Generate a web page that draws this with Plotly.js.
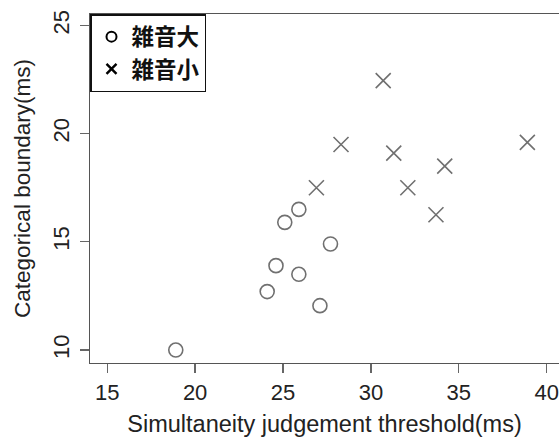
<!DOCTYPE html>
<html>
<head>
<meta charset="utf-8">
<script src="https://cdn.plot.ly/plotly-3.0.1.min.js"></script>
<style>html,body{margin:0;padding:0;background:#fff}#chart{width:559px;height:437px}</style>
</head>
<body>
<div id="chart"></div>
<script>
// 雑音大 (large noise) — circles
var bigNoiseX = [18.9, 24.1, 24.6, 25.9, 27.1, 27.7, 25.1, 25.9];
var bigNoiseY = [10.0, 12.7, 13.9, 13.5, 12.05, 14.9, 15.9, 16.5];
// 雑音小 (small noise) — crosses
var smallNoiseX = [26.9, 28.3, 30.7, 31.3, 32.1, 33.7, 34.2, 38.9];
var smallNoiseY = [17.5, 19.5, 22.45, 19.1, 17.5, 16.25, 18.5, 19.6];
var seriesNames = ['雑音大', '雑音小'];
var xTicks = [15, 20, 25, 30, 35, 40];
var yTicks = [10, 15, 20, 25];

var gray = '#707070';
var traces = [
  {x: bigNoiseX, y: bigNoiseY, mode: 'markers', type: 'scatter', showlegend: false,
   marker: {symbol: 'circle-open', size: 14, color: gray, line: {width: 1.6, color: gray}}},
  {x: smallNoiseX, y: smallNoiseY, mode: 'markers', type: 'scatter', showlegend: false,
   marker: {symbol: 'x-thin-open', size: 15, color: gray, line: {width: 1.6, color: gray}}},
  {x: [null], y: [null], mode: 'markers', type: 'scatter', name: seriesNames[0],
   marker: {symbol: 'circle-open', size: 10, color: '#000', line: {width: 2, color: '#000'}}},
  {x: [null], y: [null], mode: 'markers', type: 'scatter', name: seriesNames[1],
   marker: {symbol: 'x-thin-open', size: 10, color: '#000', line: {width: 2.4, color: '#000'}}}
];

var tickFont = {family: 'Liberation Sans, Arial, sans-serif', size: 22, color: '#222'};
var xTitleFont = {family: 'Liberation Sans, Arial, sans-serif', size: 23.5, color: '#222'};
var yTitleFont = {family: 'Liberation Sans, Arial, sans-serif', size: 22.5, color: '#222'};
var layout = {
  width: 559, height: 437,
  margin: {l: 90, r: 0, t: 14, b: 74},
  paper_bgcolor: '#fff', plot_bgcolor: '#fff',
  showlegend: true,
  legend: {x: 0, y: 1, xanchor: 'left', yanchor: 'top', bordercolor: '#111', borderwidth: 1.5,
           bgcolor: '#fff', itemwidth: 30, tracegroupgap: 0,
           font: {family: 'Noto Sans CJK JP, sans-serif', size: 22.5, color: '#111', weight: 'bold'}},
  xaxis: {range: [14.02, 40.70], tickvals: xTicks, ticktext: xTicks.map(String),
          showgrid: false, zeroline: false, showline: true, mirror: true, linecolor: '#555', linewidth: 1.3,
          ticks: 'outside', ticklen: 9, tickwidth: 1.3, tickcolor: '#666', tickfont: tickFont,
          title: {text: 'Simultaneity judgement threshold(ms)', font: xTitleFont, standoff: 11}},
  yaxis: {range: [9.40, 25.53], tickvals: yTicks, ticktext: yTicks.map(String), tickangle: -90,
          showgrid: false, zeroline: false, showline: true, linecolor: '#555', linewidth: 1.3,
          ticks: 'outside', ticklen: 9, tickwidth: 1.3, tickcolor: '#666', tickfont: tickFont,
          ticklabelstandoff: 2,
          title: {text: 'Categorical boundary(ms)', font: yTitleFont, standoff: 12}}
};
Plotly.newPlot('chart', traces, layout, {displayModeBar: false, staticPlot: true});
</script>
</body>
</html>
